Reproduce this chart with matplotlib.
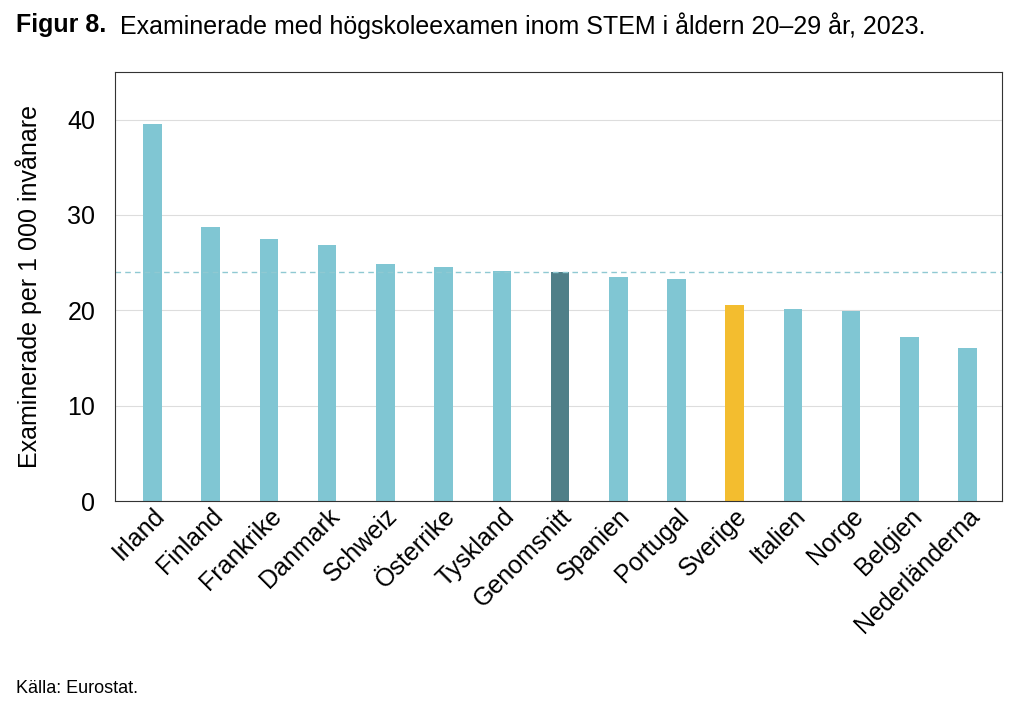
import matplotlib.pyplot as plt

countries = ["Irland", "Finland", "Frankrike", "Danmark", "Schweiz", "Österrike", "Tyskland",
             "Genomsnitt", "Spanien", "Portugal", "Sverige", "Italien", "Norge", "Belgien",
             "Nederländerna"]
values = [39.5, 28.7, 27.5, 26.9, 24.9, 24.5, 24.1, 24.0, 23.5, 23.3, 20.6, 20.1, 19.9, 17.2, 16.1]
average = 24.0

colors = []
for c in countries:
    if c == "Genomsnitt":
        colors.append("#4f7f88")
    elif c == "Sverige":
        colors.append("#f3bd2f")
    else:
        colors.append("#80c6d3")

plt.rcParams['font.family'] = ['Liberation Sans', 'DejaVu Sans']
fig = plt.figure(figsize=(10.24, 7.19), dpi=100)
ax = fig.add_axes([0.112, 0.303, 0.867, 0.597])

ax.set_axisbelow(True)
ax.grid(axis='y', color='#dddddd', linewidth=0.8)
ax.bar(range(len(countries)), values, width=0.32, color=colors)
ax.axhline(average, color='#8fc9d2', linestyle=(0, (4, 3)), linewidth=1)

ax.set_xlim(-0.65, len(countries) - 0.4)
ax.set_ylim(0, 45)
ax.set_yticks([0, 10, 20, 30, 40])
ax.tick_params(axis='y', labelsize=18, length=0, pad=14)
ax.tick_params(axis='x', labelsize=18, length=0, pad=2)
ax.set_xticks(range(len(countries)))
ax.set_xticklabels(countries, rotation=45, ha='right', rotation_mode='anchor')
ax.set_ylabel("Examinerade per 1 000 invånare", fontsize=18, labelpad=18)
for s in ax.spines.values():
    s.set_color('#333333')

fig.text(0.016, 0.965, "Figur 8.", fontsize=18, fontweight='bold', va='center')
fig.text(0.117, 0.965, "Examinerade med högskoleexamen inom STEM i åldern 20–29 år, 2023.",
         fontsize=18, va='center')
fig.text(0.016, 0.043, "Källa: Eurostat.", fontsize=13, va='center')

fig.savefig("out.png", dpi=100)
